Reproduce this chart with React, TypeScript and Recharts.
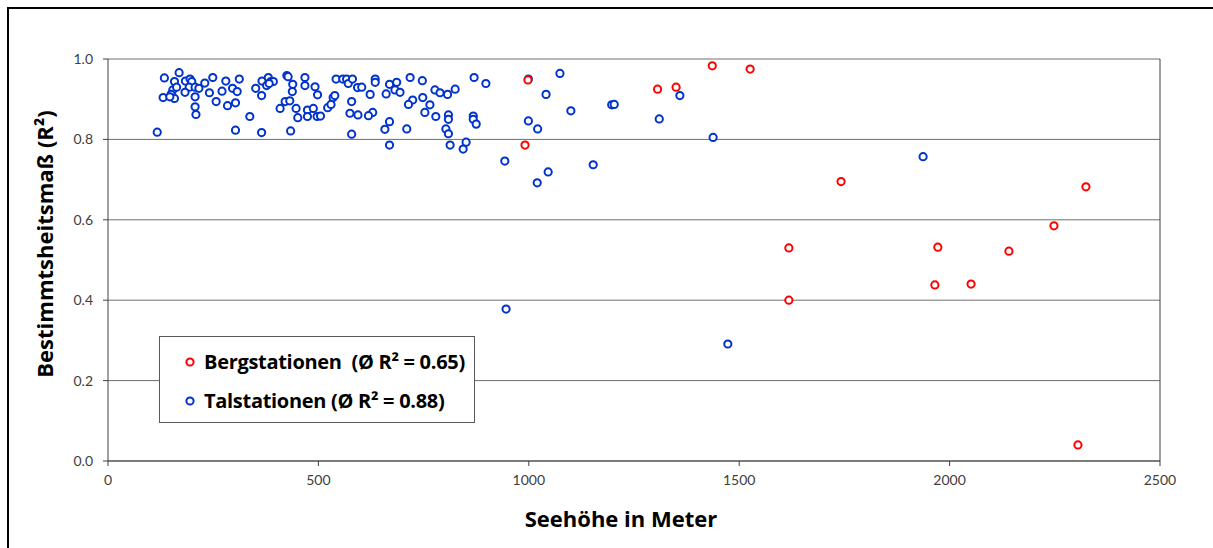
import React from "react";
import {
  ScatterChart,
  Scatter,
  XAxis,
  YAxis,
  CartesianGrid,
  ReferenceLine,
  Legend,
} from "recharts";

// Bergstationen (mountain stations): altitude [m] and R²
const BERG_HOEHE = [991, 998, 1306, 1350, 1436, 1526, 1618, 1618, 1742, 1972, 1965, 2051, 2141, 2248, 2324, 2305];
const BERG_R2 = [0.786, 0.948, 0.925, 0.93, 0.983, 0.975, 0.53, 0.4, 0.695, 0.532, 0.438, 0.44, 0.522, 0.585, 0.682, 0.04];

// Talstationen (valley stations)
const TAL_HOEHE = [
  117, 134, 131, 169, 158, 154, 150, 163, 158, 147, 184, 195, 199, 193, 207, 183, 207, 207, 209, 216,
  230, 249, 241, 257, 280, 271, 296, 312, 307, 284, 303, 337, 303, 351, 366, 365, 365, 381, 387, 393,
  377, 383, 425, 428, 439, 438, 421, 432, 409, 447, 451, 434, 468, 468, 492, 498, 474, 474, 488, 497,
  505, 522, 530, 535, 539, 542, 558, 567, 571, 581, 593, 579, 575, 579, 594, 603, 635, 635, 623, 629,
  619, 669, 686, 682, 694, 661, 718, 747, 724, 714, 748, 765, 753, 779, 777, 789, 807, 825, 870, 898,
  809, 809, 868, 868, 875, 669, 658, 710, 803, 809, 669, 813, 851, 844, 943, 999, 1074, 1041, 1100, 999,
  1021, 1153, 1020, 1046, 946, 1473, 1438, 1197, 1203, 1310, 1359, 1937,
];
const TAL_R2 = [
  0.818, 0.953, 0.904, 0.966, 0.944, 0.923, 0.912, 0.93, 0.902, 0.906, 0.945, 0.95, 0.944, 0.93, 0.93, 0.917, 0.906, 0.881, 0.862, 0.927,
  0.94, 0.954, 0.916, 0.894, 0.945, 0.92, 0.927, 0.95, 0.919, 0.884, 0.891, 0.857, 0.823, 0.927, 0.945, 0.909, 0.817, 0.954, 0.944, 0.944,
  0.934, 0.939, 0.959, 0.956, 0.937, 0.919, 0.894, 0.896, 0.877, 0.877, 0.854, 0.821, 0.954, 0.934, 0.931, 0.911, 0.873, 0.857, 0.877, 0.857,
  0.858, 0.879, 0.887, 0.904, 0.909, 0.95, 0.95, 0.95, 0.939, 0.95, 0.929, 0.894, 0.865, 0.813, 0.861, 0.93, 0.95, 0.942, 0.912, 0.867,
  0.859, 0.937, 0.942, 0.923, 0.917, 0.913, 0.954, 0.946, 0.898, 0.887, 0.904, 0.886, 0.867, 0.857, 0.923, 0.916, 0.912, 0.925, 0.954, 0.939,
  0.861, 0.85, 0.858, 0.85, 0.838, 0.844, 0.825, 0.826, 0.826, 0.814, 0.786, 0.786, 0.793, 0.776, 0.746, 0.95, 0.964, 0.912, 0.871, 0.846,
  0.826, 0.737, 0.692, 0.719, 0.378, 0.291, 0.805, 0.886, 0.887, 0.851, 0.909, 0.757,
];

const X_TICKS = [0, 500, 1000, 1500, 2000, 2500];
const Y_TICKS = [0, 0.2, 0.4, 0.6, 0.8, 1.0];

const SERIES = [
  { name: "Bergstationen  (Ø R² = 0.65)", color: "#ff0000" },
  { name: "Talstationen (Ø R² = 0.88)", color: "#0033cc" },
];

const bergData = BERG_HOEHE.map((x, i) => ({ x, y: BERG_R2[i] }));
const talData = TAL_HOEHE.map((x, i) => ({ x, y: TAL_R2[i] }));

const TICK_FONT = "Lato, 'Open Sans', sans-serif";
const BOLD_FONT = "'Open Sans', Lato, sans-serif";
const tickStyle = { fontSize: 14, fill: "#404040", fontFamily: TICK_FONT };

function Ring({ cx = 0, cy = 0, color }: { cx?: number; cy?: number; color: string }) {
  return <circle cx={cx} cy={cy} r={3.6} fill="#fff" stroke={color} strokeWidth={2} />;
}

function LegendBox() {
  return (
    <div
      style={{
        width: 316,
        height: 87,
        border: "1px solid #595959",
        background: "#fff",
        boxSizing: "border-box",
        paddingTop: 5,
        fontFamily: BOLD_FONT,
      }}
    >
      {SERIES.map((s) => (
        <div key={s.name} style={{ display: "flex", alignItems: "center", height: 39, paddingLeft: 24 }}>
          <svg width={20} height={12}>
            <circle cx={6} cy={6} r={3.6} fill="#fff" stroke={s.color} strokeWidth={2} />
          </svg>
          <span style={{ fontSize: 20, fontWeight: 700, color: "#000", whiteSpace: "pre", letterSpacing: -0.3 }}>
            {s.name}
          </span>
        </div>
      ))}
    </div>
  );
}

export default function App() {
  return (
    <div style={{ position: "absolute", left: 0, top: 0, width: 1213, height: 548, background: "#fff" }}>
      <div
        style={{
          position: "absolute",
          left: 7,
          top: 7,
          right: 0,
          bottom: 0,
          borderTop: "2px solid #000",
          borderLeft: "2px solid #000",
        }}
      />
      <ScatterChart width={1213} height={548} margin={{ top: 59, right: 53, bottom: 27, left: 0 }}>
        <CartesianGrid horizontal vertical={false} stroke="#6e6e6e" />
        <XAxis
          type="number"
          dataKey="x"
          domain={[0, 2500]}
          ticks={X_TICKS}
          height={60}
          tick={tickStyle}
          tickSize={5}
          tickMargin={9}
          axisLine={{ stroke: "#404040" }}
          tickLine={{ stroke: "#404040" }}
          label={{
            content: ({ viewBox }: any) => (
              <text
                x={viewBox.x + viewBox.width / 2 - 13}
                y={518}
                textAnchor="middle"
                dominantBaseline="central"
                fontSize={22}
                fontWeight={700}
                fontFamily={BOLD_FONT}
                fill="#000"
              >
                Seehöhe in Meter
              </text>
            ),
          }}
        />
        <YAxis
          type="number"
          dataKey="y"
          domain={[0, 1]}
          ticks={Y_TICKS}
          width={108}
          tick={tickStyle}
          tickFormatter={(v: number) => v.toFixed(1)}
          tickSize={5}
          tickMargin={10}
          axisLine={{ stroke: "#404040" }}
          tickLine={{ stroke: "#404040" }}
          label={{
            content: ({ viewBox }: any) => {
              const cy = viewBox.y + viewBox.height / 2 - 16;
              return (
                <text
                  x={44}
                  y={cy}
                  transform={`rotate(-90, 44, ${cy})`}
                  textAnchor="middle"
                  dominantBaseline="central"
                  fontSize={22}
                  fontWeight={700}
                  fontFamily={BOLD_FONT}
                  fill="#000"
                >
                  Bestimmtsheitsmaß (R²)
                </text>
              );
            },
          }}
        />
        <ReferenceLine x={2500} stroke="#404040" />
        <Legend
          layout="horizontal"
          verticalAlign="middle"
          align="center"
          wrapperStyle={{ left: 159, top: 336, width: 316 }}
          content={() => <LegendBox />}
        />
        <Scatter
          name="Talstationen"
          data={talData}
          isAnimationActive={false}
          shape={(p: any) => <Ring cx={p.cx} cy={p.cy} color={SERIES[1].color} />}
        />
        <Scatter
          name="Bergstationen"
          data={bergData}
          isAnimationActive={false}
          shape={(p: any) => <Ring cx={p.cx} cy={p.cy} color={SERIES[0].color} />}
        />
      </ScatterChart>
    </div>
  );
}
